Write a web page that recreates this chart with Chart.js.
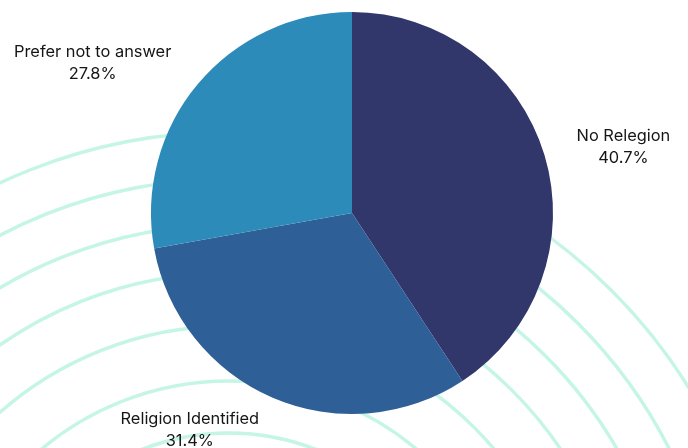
<!DOCTYPE html>
<html>
<head>
<meta charset="utf-8">
<script src="https://cdn.jsdelivr.net/npm/chart.js@4.4.1/dist/chart.umd.min.js"></script>
<style>
  html, body { margin: 0; padding: 0; background: #fff; }
  #wrap { width: 688px; height: 448px; }
</style>
</head>
<body>
<div id="wrap"><canvas id="religionPie"></canvas></div>
<script>
const categories = ['No Relegion', 'Religion Identified', 'Prefer not to answer'];
const shares = [40.7, 31.4, 27.8];
const sliceColors = ['#31366b', '#2e5f97', '#2d8bba'];

// where each label sits: angle (deg, clockwise from 3 o'clock) and distance in radii
const labelSpots = [
  { angle: -13.7, dist: 1.39 },
  { angle: 126.7, dist: 1.35 },
  { angle: 210, dist: 1.49 },
];

// decorative rings behind the pie
const _ringsPlugin = {
  id: 'bgRings',
  beforeDraw(chart) {
    const { ctx } = chart;
    const cx = 229, cy = 673;
    const radii = [541, 494, 448, 400, 347, 292, 240];
    ctx.save();
    ctx.strokeStyle = '#c4f5e5';
    ctx.lineWidth = 3.4;
    radii.forEach(r => {
      ctx.beginPath();
      ctx.arc(cx, cy, r, 0, Math.PI * 2);
      ctx.stroke();
    });
    ctx.restore();
  },
};

const _outerLabels = {
  id: 'outerLabels',
  afterDraw(chart) {
    const { ctx } = chart;
    const arcs = chart.getDatasetMeta(0).data;
    ctx.save();
    ctx.font = '16.4px Inter, "Noto Sans", sans-serif';
    ctx.fillStyle = '#151515';
    ctx.textAlign = 'center';
    ctx.textBaseline = 'middle';
    arcs.forEach((arc, i) => {
      const spot = labelSpots[i];
      const a = spot.angle * Math.PI / 180;
      const d = arc.outerRadius * spot.dist;
      const x = arc.x + Math.cos(a) * d;
      const y = arc.y + Math.sin(a) * d;
      ctx.fillText(categories[i], x, y - 11);
      ctx.fillText(shares[i].toFixed(1) + '%', x, y + 11);
    });
    ctx.restore();
  },
};

new Chart(document.getElementById('religionPie'), {
  type: 'pie',
  data: {
    labels: categories,
    datasets: [{
      data: shares,
      backgroundColor: sliceColors,
      borderWidth: 0,
    }],
  },
  options: {
    responsive: true,
    maintainAspectRatio: false,
    animation: false,
    layout: { padding: { left: 16, right: 0, top: 12, bottom: 34 } },
    plugins: {
      legend: { display: false },
      tooltip: { enabled: false },
    },
  },
  plugins: [_ringsPlugin, _outerLabels],
});
</script>
</body>
</html>
